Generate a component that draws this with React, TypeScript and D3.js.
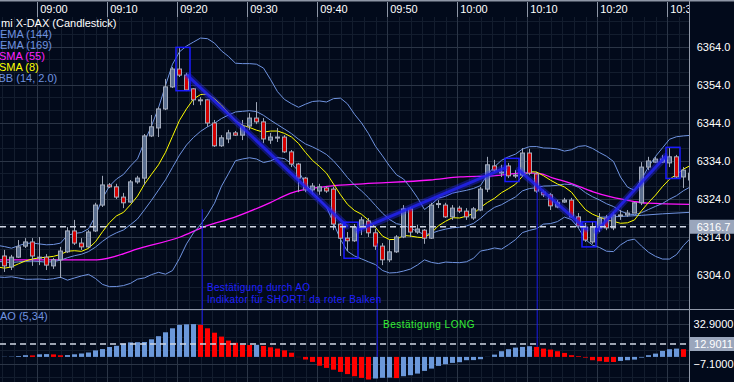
import React from 'react';
import * as d3 from 'd3';

const W = 734;
const H = 382;

// ---- data ----
const startTime = '08:55';
const opens = [6309.0, 6306.1, 6308.7, 6311.6, 6312.7, 6308.7, 6308.7, 6306.4, 6308.0, 6310.1, 6315.6, 6312.4, 6311.4, 6315.6, 6322.4, 6327.7, 6327.2, 6324.5, 6323.2, 6328.5, 6329.5, 6340.6, 6342.7, 6347.7, 6353.5, 6358.2, 6356.6, 6353.0, 6350.1, 6350.1, 6344.0, 6338.0, 6339.8, 6341.4, 6340.8, 6343.2, 6345.3, 6344.3, 6339.5, 6340.3, 6340.3, 6336.4, 6333.2, 6329.5, 6326.4, 6326.1, 6326.9, 6326.6, 6317.4, 6313.7, 6313.0, 6316.4, 6318.2, 6315.1, 6311.6, 6308.0, 6310.1, 6314.0, 6321.4, 6315.3, 6315.8, 6313.7, 6322.6, 6322.4, 6319.3, 6321.6, 6320.8, 6319.0, 6321.1, 6326.6, 6332.7, 6331.1, 6332.7, 6330.3, 6330.3, 6336.1, 6330.6, 6325.8, 6325.1, 6321.9, 6323.2, 6323.7, 6319.3, 6316.6, 6312.7, 6316.4, 6319.0, 6316.4, 6319.8, 6319.8, 6320.3, 6323.0, 6332.4, 6333.7, 6333.7, 6333.5, 6335.1, 6329.8, 6329.0];
const highs = [6310.6, 6309.3, 6313.2, 6313.7, 6313.7, 6314.0, 6309.5, 6308.5, 6311.4, 6316.6, 6318.5, 6313.7, 6315.8, 6323.0, 6330.1, 6328.2, 6328.0, 6325.6, 6329.0, 6330.1, 6341.1, 6346.1, 6348.2, 6355.6, 6358.7, 6363.7, 6357.2, 6353.2, 6350.8, 6350.3, 6344.8, 6340.8, 6342.2, 6341.9, 6344.8, 6346.6, 6349.5, 6345.3, 6341.4, 6342.7, 6340.8, 6336.9, 6333.5, 6329.8, 6328.2, 6328.0, 6327.4, 6327.2, 6317.7, 6315.3, 6317.4, 6319.3, 6319.0, 6316.1, 6312.4, 6313.2, 6314.5, 6322.4, 6321.9, 6317.2, 6316.1, 6323.0, 6323.7, 6323.0, 6322.4, 6322.2, 6321.6, 6321.9, 6327.2, 6335.1, 6334.3, 6333.0, 6333.5, 6331.6, 6337.4, 6337.2, 6331.1, 6326.4, 6325.6, 6323.7, 6324.3, 6324.3, 6320.3, 6317.7, 6318.0, 6320.3, 6319.8, 6320.6, 6321.1, 6321.1, 6323.2, 6333.7, 6335.1, 6335.1, 6335.6, 6337.4, 6335.6, 6332.4, 6331.6];
const lows = [6304.8, 6305.3, 6308.5, 6311.1, 6306.4, 6306.6, 6305.3, 6305.6, 6303.2, 6309.8, 6311.9, 6310.6, 6311.1, 6315.3, 6321.9, 6326.9, 6324.0, 6321.6, 6323.0, 6328.0, 6327.7, 6340.3, 6340.3, 6347.4, 6353.2, 6356.1, 6352.4, 6348.7, 6348.7, 6343.0, 6337.7, 6337.7, 6338.7, 6340.6, 6339.5, 6342.2, 6343.7, 6338.7, 6338.5, 6339.0, 6336.1, 6332.4, 6325.8, 6325.8, 6325.1, 6325.1, 6325.6, 6315.8, 6309.0, 6310.3, 6312.7, 6314.5, 6314.0, 6310.6, 6306.6, 6307.4, 6309.8, 6313.7, 6314.0, 6314.8, 6312.2, 6313.5, 6321.6, 6319.0, 6318.5, 6320.3, 6318.5, 6318.5, 6320.8, 6325.8, 6331.1, 6329.8, 6329.5, 6329.5, 6329.8, 6330.3, 6325.6, 6324.5, 6321.1, 6321.6, 6323.0, 6319.0, 6316.4, 6312.7, 6312.2, 6315.3, 6315.8, 6315.8, 6318.5, 6319.3, 6320.3, 6322.4, 6331.6, 6333.5, 6333.5, 6332.4, 6329.5, 6326.9, 6326.4];
const closes = [6306.4, 6308.7, 6311.4, 6312.7, 6309.0, 6308.5, 6306.6, 6308.0, 6310.3, 6315.6, 6312.4, 6311.4, 6315.3, 6322.4, 6327.7, 6327.2, 6324.5, 6323.0, 6328.5, 6329.5, 6340.6, 6343.0, 6347.7, 6353.5, 6358.2, 6356.6, 6352.7, 6350.1, 6350.0, 6344.0, 6338.0, 6340.1, 6341.4, 6340.8, 6343.0, 6345.3, 6344.3, 6339.8, 6340.3, 6340.2, 6336.4, 6333.2, 6329.5, 6326.4, 6327.4, 6327.2, 6326.1, 6317.4, 6313.7, 6313.0, 6316.6, 6318.5, 6315.1, 6311.6, 6308.0, 6310.1, 6314.0, 6321.4, 6315.3, 6316.1, 6313.7, 6322.4, 6322.8, 6319.3, 6321.6, 6320.8, 6319.3, 6321.4, 6326.6, 6333.0, 6331.6, 6331.0, 6330.1, 6330.2, 6336.1, 6330.8, 6326.1, 6325.1, 6322.2, 6323.0, 6323.7, 6319.3, 6316.9, 6313.2, 6316.6, 6319.0, 6316.4, 6319.8, 6319.7, 6320.3, 6323.0, 6332.4, 6334.0, 6334.5, 6334.5, 6335.1, 6329.8, 6331.6, 6330.8];
// closes just before the visible window (estimated from the indicator levels at the left edge)
const leadInCloses = [6309.5, 6310.5, 6309.0, 6311.0, 6308.0, 6310.0, 6309.0, 6306.0, 6305.0, 6306.5, 6305.0, 6306.0, 6305.5, 6306.0];

const aoValues = [0.2, 0.3, 0.8, 1.7, 1.5, 2.6, 2.8, 2.5, 1.6, 1.8, 2.6, 3.4, 4.4, 6.5, 7.8, 9.9, 11.1, 13.2, 14.5, 14.7, 14.9, 17.6, 20.7, 24.6, 28.6, 32.0, 32.6, 32.8, 32.0, 28.6, 24.2, 20.3, 16.3, 14.1, 12.1, 11.9, 12.1, 11.0, 9.6, 8.3, 6.6, 4.2, -0.2, -2.6, -5.0, -8.8, -11.0, -12.8, -15.0, -17.2, -19.3, -21.0, -22.6, -21.6, -20.9, -20.7, -21.2, -19.3, -18.3, -16.7, -14.0, -11.7, -9.0, -7.3, -6.0, -5.3, -3.3, -3.2, -2.3, -0.1, 2.3, 5.7, 7.7, 9.3, 10.0, 10.7, 10.0, 8.3, 7.3, 5.7, 4.0, 1.7, 0.7, -0.7, -3.3, -4.3, -5.0, -5.1, -4.0, -3.3, -2.7, -0.7, 1.7, 3.3, 6.0, 7.7, 8.3, 7.7];

const sma55Bars = [-0.7, 13.2, 19.4, 25.1, 28.4, 33, 37.9, 40.8, 46.5, 51.2, 60.8, 65.1, 69.8, 74.6, 76.5, 78.4, 80.8, 84.1, 86.5, 89.8, 91.8, 98];
const sma55Values = [6308.0, 6308.0, 6311.1, 6314.0, 6316.6, 6319.3, 6323.0, 6325.5, 6327.4, 6328.0, 6329.0, 6329.8, 6330.1, 6330.9, 6330.7, 6329.5, 6328.2, 6325.9, 6324.6, 6323.4, 6322.9, 6322.6];

// EMA (144) only starts near the right edge
const ema144Bars = [85, 88, 91, 94, 98];
const ema144Values = [6319.2, 6319.4, 6319.7, 6320.1, 6320.5];

const priceTicks = [6304, 6314, 6324, 6334, 6344, 6354, 6364];
const aoTicks = [32.9, -7.1];
const lastPrice = 6316.7;
const aoLast = 12.9011;

const legendLabels = ['mi X-DAX (Candlestick)', 'EMA (144)', 'EMA (169)', 'SMA (55)', 'SMA (8)', 'BB (14, 2.0)'];
const legendColors = ['#ffffff', '#6f93e0', '#6f93e0', '#ff22ff', '#ffff00', '#6f93e0'];

const boxFrom = [25, 49, 72, 83, 95];
const boxTo = [26, 50, 73, 84, 96];
const boxHigh = [6363.9, 6317.9, 6334.7, 6318.0, 6337.6];
const boxLow = [6352.5, 6308.4, 6328.6, 6311.4, 6329.4];

const trendFromBar = [26.2, 50.5, 73.5, 84.6];
const trendFromPrice = [6356.4, 6315.8, 6331.6, 6315.6];
const trendToBar = [48.9, 71.5, 83.1, 94.4];
const trendToPrice = [6316.9, 6332.2, 6316.1, 6335.1];

const signalBars = [28.25, 53.25, 76.1];
const signalPrice = [6321.3, 6312.3, 6330.3];
const signalAo = [32.0, 0, 10.0];

const noteShort = ['Bestätigung durch AO', 'Indikator für SHORT! da roter Balken'];
const noteLong = 'Bestätigung LONG';

// ---- layout ----
const BG = '#020a1b';
const PLOT_R = 690;
const MAIN_T = 17;
const MAIN_B = 309;
const AO_T = 310;
const FONT = "'Liberation Sans', Arial, sans-serif";

export default function App() {
  const n = closes.length;
  const x = d3.scaleLinear().domain([0, 97]).range([4.5, 683.5]);
  const y = d3.scaleLinear().domain([6304, 6364]).range([275, 47]);
  const ya = d3.scaleLinear().domain([-7.1, 32.9]).range([364, 324]);

  const t0 = d3.timeParse('%H:%M')(startTime) as Date;
  const tScale = d3.scaleTime().domain([t0, d3.timeMinute.offset(t0, 97)]).range([x(0), x(97)]);
  const tTicks = d3.timeMinute.every(10)!.range(t0, d3.timeMinute.offset(t0, 100));
  const sepX = tTicks.map((t) => tScale(t) - 1.8);
  const fmtT = d3.timeFormat('%H:%M');

  // indicators
  const all = leadInCloses.concat(closes);
  const L = leadInCloses.length;
  const bbUp: [number, number][] = [];
  const bbMid: [number, number][] = [];
  const bbLo: [number, number][] = [];
  for (let i = 13; i < all.length; i++) {
    const win = all.slice(i - 13, i + 1);
    const m = d3.mean(win)!;
    const sd = Math.sqrt(d3.mean(win.map((v) => (v - m) * (v - m)))!);
    const k = i - L;
    bbUp.push([k, m + 2 * sd]);
    bbMid.push([k, m]);
    bbLo.push([k, m - 2 * sd]);
  }
  const sma8: [number, number][] = [];
  for (let i = 7; i < all.length; i++) {
    sma8.push([i - L, d3.mean(all.slice(i - 7, i + 1))!]);
  }
  const sma55 = sma55Bars.map((b, i) => [b, sma55Values[i]] as [number, number]);
  const ema144 = ema144Bars.map((b, i) => [b, ema144Values[i]] as [number, number]);

  const line = d3.line<[number, number]>().x((d) => x(d[0])).y((d) => y(d[1]));
  const smooth = d3.line<[number, number]>().x((d) => x(d[0])).y((d) => y(d[1])).curve(d3.curveMonotoneX);

  // grid
  const minorV: number[] = [];
  for (let v = sepX[0] - 70; v < PLOT_R; v += 70 / 6) if (v > 0) minorV.push(v);
  const minorH: number[] = [];
  for (let v = y(6364) - (38 / 3) * 2; v < MAIN_B; v += 38 / 3) if (v > MAIN_T) minorH.push(v);
  const aoMinorH: number[] = [];
  for (let v = ya(32.9) - 40 / 3; v < H; v += 40 / 3) if (v > AO_T) aoMinorH.push(v);

  const aoColor = (i: number) => (i === 0 || aoValues[i] >= aoValues[i - 1] ? '#6b98da' : '#ff0000');

  return (
    <svg width={W} height={H} style={{ position: 'absolute', left: 0, top: 0, display: 'block' }} fontFamily={FONT}>
      <defs>
        <clipPath id="mainClip"><rect x={0} y={MAIN_T} width={PLOT_R} height={MAIN_B - MAIN_T} /></clipPath>
        <clipPath id="aoClip"><rect x={0} y={AO_T} width={PLOT_R} height={H - AO_T} /></clipPath>
        <clipPath id="timeClip"><rect x={0} y={0} width={PLOT_R} height={MAIN_T} /></clipPath>
      </defs>
      <rect x={0} y={0} width={W} height={H} fill={BG} />

      {/* minor grid */}
      <g stroke="#131d2e" strokeWidth={1} shapeRendering="crispEdges">
        {minorV.map((v, i) => <line key={'mv' + i} x1={v} x2={v} y1={MAIN_T} y2={H} />)}
        {minorH.map((v, i) => <line key={'mh' + i} x1={0} x2={PLOT_R} y1={v} y2={v} />)}
        {aoMinorH.map((v, i) => <line key={'amh' + i} x1={0} x2={PLOT_R} y1={v} y2={v} />)}
      </g>
      {/* major grid */}
      <g stroke="#2b3546" strokeWidth={1} shapeRendering="crispEdges">
        {sepX.filter((v) => v < PLOT_R).map((v, i) => <line key={'v' + i} x1={v} x2={v} y1={MAIN_T} y2={H} />)}
        {priceTicks.map((p, i) => <line key={'h' + i} x1={0} x2={PLOT_R} y1={y(p)} y2={y(p)} />)}
        {aoTicks.map((p, i) => <line key={'ah' + i} x1={0} x2={PLOT_R} y1={ya(p)} y2={ya(p)} />)}
      </g>

      {/* time axis band */}
      <rect x={0} y={0} width={W} height={1.5} fill="#8e96a6" />
      <g clipPath="url(#timeClip)">
        {sepX.map((v, i) => (
          <g key={'t' + i}>
            <line x1={v} x2={v} y1={1.5} y2={MAIN_T} stroke="#8e96a6" strokeWidth={1} shapeRendering="crispEdges" />
            <text x={v + 2.5} y={13} fill="#ffffff" fontSize={11}>{fmtT(tTicks[i])}</text>
          </g>
        ))}
      </g>

      {/* main panel */}
      <g clipPath="url(#mainClip)">
        <path d={smooth(sma55)!} fill="none" stroke="#ff14ff" strokeWidth={1.3} />
        <path d={line(bbUp)!} fill="none" stroke="#6f93e0" strokeWidth={1} />
        <path d={line(bbMid)!} fill="none" stroke="#6f93e0" strokeWidth={1} />
        <path d={line(bbLo)!} fill="none" stroke="#6f93e0" strokeWidth={1} />
        <path d={smooth(ema144)!} fill="none" stroke="#6f93e0" strokeWidth={1} />
        <path d={line(sma8)!} fill="none" stroke="#ffff00" strokeWidth={1} />

        {d3.range(n).map((k) => {
          const o = opens[k], c = closes[k];
          const up = c >= o;
          const top = y(Math.max(o, c));
          const bot = y(Math.min(o, c));
          const cx = x(k);
          return (
            <g key={'c' + k}>
              <line x1={cx} x2={cx} y1={y(highs[k])} y2={y(lows[k])} stroke="#9ea6b6" strokeWidth={1} />
              <rect x={cx - 2} y={top} width={4} height={Math.max(1, bot - top)}
                fill={up ? '#5b6f8f' : '#d40000'} stroke="#a4acbc" strokeWidth={1} />
            </g>
          );
        })}

        {/* trend zigzag */}
        {trendFromBar.map((b, i) => (
          <g key={'tr' + i}>
            <line x1={x(b)} y1={y(trendFromPrice[i])} x2={x(trendToBar[i])} y2={y(trendToPrice[i])}
              stroke="#2a2aff" strokeOpacity={0.35} strokeWidth={7} strokeLinecap="round" />
            <line x1={x(b)} y1={y(trendFromPrice[i])} x2={x(trendToBar[i])} y2={y(trendToPrice[i])}
              stroke="#2222ee" strokeOpacity={0.85} strokeWidth={3} strokeLinecap="round" />
          </g>
        ))}
        {boxFrom.map((b, i) => (
          <rect key={'bx' + i} x={x(b) - 3.5} y={y(boxHigh[i])} width={x(boxTo[i]) - x(b) + 7}
            height={y(boxLow[i]) - y(boxHigh[i])} fill="none" stroke="#1a1aff" strokeWidth={1.5} />
        ))}

        {/* last price dashed line */}
        <line x1={0} x2={PLOT_R} y1={y(lastPrice)} y2={y(lastPrice)} stroke="#d0d6e4" strokeWidth={1.5} strokeDasharray="6 4" />

        {/* notes */}
        <text x={207} y={291} fill="#2020ff" fontSize={10} letterSpacing={0.3}>{noteShort[0]}</text>
        <text x={207} y={303} fill="#2020ff" fontSize={10} letterSpacing={0.3}>{noteShort[1]}</text>

        {/* legend */}
        {legendLabels.map((t, i) => (
          <text key={'lg' + i} x={i === 0 ? 1 : i === 5 ? -1.5 : i >= 3 ? -1 : 0} y={27 + i * 11} fill={legendColors[i]} fontSize={11}>{t}</text>
        ))}
      </g>

      {/* AO panel */}
      <g clipPath="url(#aoClip)">
        {aoValues.map((v, i) => (
          <rect key={'ao' + i} x={x(i) - 2.5} width={5} y={Math.min(ya(0), ya(v))} height={Math.abs(ya(v) - ya(0))}
            fill={aoColor(i)} />
        ))}
        <line x1={0} x2={PLOT_R} y1={ya(aoLast)} y2={ya(aoLast)} stroke="#d0d6e4" strokeWidth={1.5} strokeDasharray="6 4" />
        <text x={0} y={320} fill="#6f93e0" fontSize={11}>AO (5,34)</text>
        <text x={383} y={328} fill="#33ee33" fontSize={10} letterSpacing={0.5}>{noteLong}</text>
      </g>

      {/* signal verticals */}
      {signalBars.map((b, i) => (
        <line key={'sg' + i} x1={x(b)} x2={x(b)} y1={y(signalPrice[i])} y2={ya(signalAo[i])} stroke="#1c1ce8" strokeWidth={1} />
      ))}

      {/* separators */}
      <line x1={0} x2={W} y1={309.5} y2={309.5} stroke="#9098a8" strokeWidth={1} />
      <line x1={689.5} x2={689.5} y1={0} y2={H} stroke="#9098a8" strokeWidth={1} />

      {/* right axis */}
      <g fill="#ffffff" fontSize={11} textAnchor="middle">
        {priceTicks.map((p, i) => (
          <text key={'pt' + i} x={713.5} y={y(p) + 4}>{d3.format('.1f')(p)}</text>
        ))}
        {aoTicks.map((p, i) => (
          <text key={'at' + i} x={713.5} y={ya(p) + 4}>{d3.format('.4f')(p)}</text>
        ))}
      </g>
      <rect x={690} y={y(lastPrice) - 7} width={44} height={14} fill="#9aa6bc" />
      <text x={713.5} y={y(lastPrice) + 4} fill="#ffffff" fontSize={11} textAnchor="middle">{d3.format('.1f')(lastPrice)}</text>
      <rect x={690} y={ya(aoLast) - 7} width={44} height={14} fill="#9aa6bc" />
      <text x={713.5} y={ya(aoLast) + 4} fill="#ffffff" fontSize={11} textAnchor="middle">{d3.format('.4f')(aoLast)}</text>
    </svg>
  );
}
